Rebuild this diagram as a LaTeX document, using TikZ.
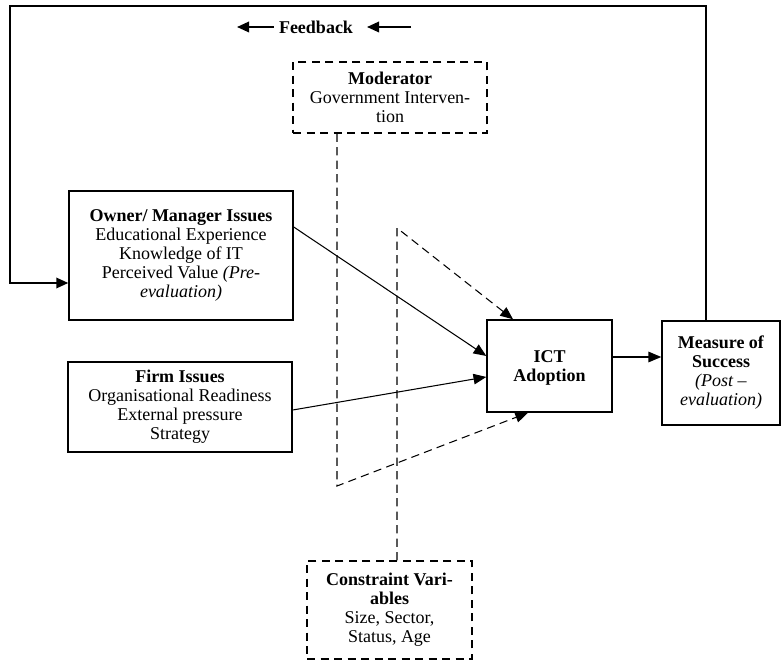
\documentclass[tikz,border=0pt]{standalone}
\usepackage{fontspec}
\setmainfont{Liberation Serif}
\usetikzlibrary{arrows.meta}
\tikzset{
  box/.style={draw,line width=1pt,align=center,inner sep=2pt,font=\fontsize{12}{12.7}\selectfont},
  dbox/.style={box,dash pattern=on 5.5pt off 3.5pt},
  link/.style={line width=0.7pt,-{Triangle[length=8.5pt,width=7pt]}},
  dlink/.style={link,dash pattern=on 5.5pt off 3.5pt},
  fbline/.style={line width=1.2pt,-{Triangle[length=8pt,width=7pt]}}
}
\begin{document}
\begin{tikzpicture}[x=0.6667pt,y=-0.6667pt]
\useasboundingbox (0,0) rectangle (782,661);

   \node[box,minimum width=149.3pt,minimum height=86pt] at (181,255.5) (O) {\textbf{Owner/ Manager Issues}\\Educational Experience\\Knowledge of IT\\Perceived Value \textit{(Pre-}\\\textit{evaluation)}};
   \node[box,minimum width=149.3pt,minimum height=60pt] at (180,407) (F) {\textbf{Firm Issues}\\Organisational Readiness\\External pressure\\Strategy};
   \node[box,minimum width=83.3pt,minimum height=61.3pt,text depth=-4pt] at (549.5,366) (I) {\textbf{ICT}\\\textbf{Adoption}};
   \node[box,minimum width=78.7pt,minimum height=69.3pt] at (721,373) (S) {\textbf{Measure of}\\\textbf{Success}\\\textit{(Post –}\\\textit{evaluation)}};
   \node[dbox,minimum width=129.3pt,minimum height=47.3pt] at (390,97.5) (M) {\textbf{Moderator}\\Government Interven-\\tion};
   \node[dbox,minimum width=110pt,minimum height=65.3pt] at (389.5,610) (C) {\textbf{Constraint Vari-}\\\textbf{ables}\\Size, Sector,\\Status, Age};
   \node[font=\fontsize{12}{12.7}\selectfont\bfseries] at (316,27) (FB) {Feedback};

   \coordinate (TR) at (706,6);
   \coordinate (TL) at (10,6);
   \coordinate (LI) at (10,283);
   \coordinate (MC) at (337,486);
   \coordinate (CC) at (397,228);
   \coordinate (A1) at (237,27);
   \coordinate (A2) at (367,27);
   \coordinate (A3) at (411,27);
   \coordinate (IS) at (612,357);

    \draw[fbline] (S.north -| TR) -- (TR) -- (TL) -- (LI) -- (LI -| O.west);
    \draw[fbline] (FB.west) -- (A1);
    \draw[fbline] (A3) -- (A2);

    \draw[link] ([yshift=19pt]O.east) -- ([yshift=6.7pt]I.west);
    \draw[link] ([yshift=-2pt]F.east) -- ([yshift=-7.3pt]I.west);
    \draw[link] (IS -| I.east) -- (IS -| S.west);

    \draw[dlink] (M.south -| MC) -- (MC) -- ([xshift=-14.3pt]I.south);
    \draw[dlink] (C.north -| CC) -- (CC) -- ([xshift=-24.3pt]I.north);

\end{tikzpicture}
\end{document}
